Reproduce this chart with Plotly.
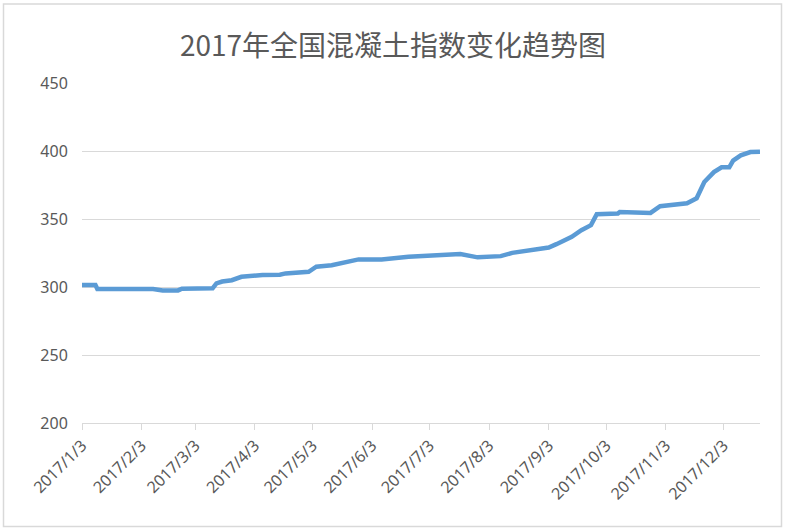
import plotly.graph_objects as go

dates = [
    "2017-01-03", "2017-01-10", "2017-01-11", "2017-01-25", "2017-02-09", "2017-02-14",
    "2017-02-22", "2017-02-24", "2017-03-12", "2017-03-14", "2017-03-17", "2017-03-22",
    "2017-03-27", "2017-04-07", "2017-04-16", "2017-04-19", "2017-05-01", "2017-05-05",
    "2017-05-13", "2017-05-27", "2017-06-08", "2017-06-22", "2017-07-08", "2017-07-19",
    "2017-07-28", "2017-08-09", "2017-08-15", "2017-08-26", "2017-09-03", "2017-09-07",
    "2017-09-15", "2017-09-20", "2017-09-25", "2017-09-28", "2017-10-09", "2017-10-10",
    "2017-10-26", "2017-10-31", "2017-11-07", "2017-11-14", "2017-11-19", "2017-11-23",
    "2017-11-28", "2017-12-02", "2017-12-06", "2017-12-08", "2017-12-12", "2017-12-17",
    "2017-12-22",
]
values = [
    301.5, 301.5, 298.5, 298.5, 298.5, 297.5,
    297.5, 298.8, 299.0, 302.7, 304.0, 305.0,
    307.5, 308.8, 309.0, 310.0, 311.2, 314.9,
    316.0, 320.3, 320.3, 322.2, 323.5, 324.2,
    321.8, 322.7, 325.1, 327.6, 329.0, 331.5,
    336.9, 341.8, 345.5, 353.5, 354.0, 355.2,
    354.5, 359.4, 360.8, 361.5, 365.2, 377.2,
    384.5, 388.0, 388.0, 393.0, 396.8, 399.2,
    399.5,
]
tick_dates = ["2017-%02d-03" % m for m in range(1, 13)]
tick_labels = ["2017/%d/3" % m for m in range(1, 13)]
y_ticks = [200, 250, 300, 350, 400, 450]
title_text = "2017年全国混凝土指数变化趋势图"

fig = go.Figure()
fig.add_trace(go.Scatter(
    x=dates, y=values, mode="lines",
    line=dict(color="#5b9bd5", width=4.5),
    hoverinfo="x+y", showlegend=False,
))

fig.update_layout(
    width=786, height=530,
    margin=dict(l=82, r=26, t=83, b=107),
    paper_bgcolor="white", plot_bgcolor="white",
    title=dict(text=title_text, x=0.5, xanchor="center", y=0.912, yanchor="middle",
               font=dict(family="Noto Sans CJK SC", size=28, color="#595959")),
    font=dict(family="Noto Sans, sans-serif", color="#595959"),
    xaxis=dict(
        type="date", range=["2017-01-03", "2017-12-22"],
        tickvals=tick_dates, ticktext=tick_labels, tickangle=-45,
        tickfont=dict(size=16, color="#595959"),
        showgrid=False, showline=True, linecolor="#d9d9d9", linewidth=1,
        ticks="outside", ticklen=6, tickcolor="#d9d9d9",
        zeroline=False, fixedrange=True,
    ),
    yaxis=dict(
        range=[200, 450], tickvals=y_ticks,
        tickfont=dict(size=16, color="#595959"),
        showgrid=True, gridcolor="#d9d9d9", gridwidth=1,
        showline=False, zeroline=False,
        ticks="outside", ticklen=10, tickcolor="rgba(0,0,0,0)",
        fixedrange=True,
    ),
    shapes=[dict(
        type="rect", xref="paper", yref="paper",
        x0=(3.5 - 82) / 678, x1=(781.5 - 82) / 678,
        y0=(423 - 526.5) / 340, y1=(423 - 4) / 340,
        line=dict(color="#d9d9d9", width=1.5), fillcolor="rgba(0,0,0,0)", layer="below",
    )],
)

fig.write_html("out.html", config={"displayModeBar": False},
               post_script="document.body.style.margin='0';")
